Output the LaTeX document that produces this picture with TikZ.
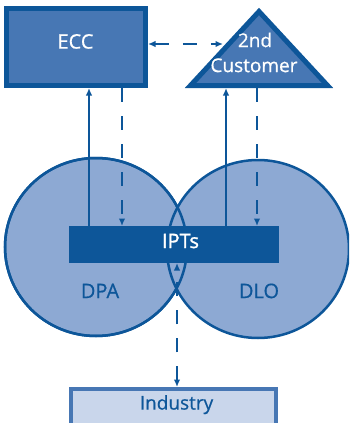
\documentclass[tikz,border=0pt]{standalone}
\usepackage{fontspec}
\setmainfont{Open Sans}
\newfontfamily\medfont{Open Sans}[FakeBold=0.7]
\newfontfamily\semifont{Open Sans}[FakeBold=1.6]
\usetikzlibrary{arrows.meta,shapes.geometric}
\definecolor{dblue}{HTML}{0D5699}
\definecolor{mblue}{HTML}{4777B4}
\definecolor{lblue}{HTML}{8DA9D3}
\definecolor{pblue}{HTML}{C9D6EB}
\tikzset{
  lbl/.style={text height=0.714em, text depth=0pt, inner sep=0pt, font=\medfont\fontsize{20}{22}\selectfont},
  conn/.style={draw=dblue, line width=2pt, -{Latex[length=7.5pt,width=6.5pt]}},
  dconn/.style={conn, dash pattern=on 14pt off 14pt},
  ring/.style={ellipse, fill=lblue, draw=dblue, line width=2.5pt, minimum width=182pt, minimum height=178pt, inner sep=0pt}
}
\begin{document}
\begin{tikzpicture}[x=1pt,y=-1pt]
\useasboundingbox (0,0) rectangle (349,423);
\clip (0,0) rectangle (349,423);
% circles
\node[ring] (dpac) at (96,247) {};
\node[ring] (dloc) at (258,249) {};
\draw[dblue, line width=2.5pt] (dpac.center) ellipse [x radius=91pt, y radius=89pt];
\node[lbl, text=dblue] (dpa) at (100,294.5) {DPA};
\node[lbl, text=dblue] (dlo) at (259,294.5) {DLO};
% IPTs bar
\node[lbl, fill=dblue, text=white, minimum width=210pt, minimum height=37pt, outer sep=0pt] (ipt) at (174,244.5) {};
\node[lbl, text=white, font=\semifont\fontsize{20}{22}\selectfont] (ipttext) at (180.5,244.5) {IPTs};
% ECC
\node[lbl, draw=dblue, fill=mblue, line width=5pt, minimum width=139pt, minimum height=77pt] (eccbox) at (76,47) {};
\node[lbl, text=white] (ecc) at (75.5,45) {ECC};
% triangle
\coordinate (tA) at (259,11.5);
\coordinate (tL) at (190.5,85.5);
\coordinate (tR) at (327.5,85.5);
\draw[dblue, fill=mblue, line width=5pt, line join=miter] (tA) -- (tL) -- (tR) -- cycle;
\node[lbl, text=white, font=\medfont\fontsize{19}{21}\selectfont] (nd) at (255,43.5) {2nd};
\node[lbl, text=white, font=\medfont\fontsize{19}{21}\selectfont] (cust) at (254,68.5) {Customer};
% Industry
\node[lbl, draw=mblue, fill=pblue, line width=4pt, minimum width=205pt, minimum height=38pt] (indbox) at (173.5,408) {};
\node[lbl, text=dblue, font=\medfont\fontsize{19}{21}\selectfont] (ind) at (176.5,406) {Industry};
% connectors
\coordinate (hy) at (0,44);
\coordinate (tl) at (223,44);
\draw[dconn, {Latex[length=7.5pt,width=6.5pt]}-{Latex[length=7.5pt,width=6.5pt]}] (eccbox.east |- hy) -- (tl);
\coordinate (x1) at (89,0);
\coordinate (x2) at (122,0);
\coordinate (t1) at (226,88);
\coordinate (t2) at (257,88);
\draw[conn] (x1 |- ipt.north) -- (x1 |- eccbox.south);
\draw[dconn] (x2 |- eccbox.south) -- (x2 |- ipt.north);
\draw[conn] (t1 |- ipt.north) -- (t1);
\draw[dconn] (t2) -- (t2 |- ipt.north);
\coordinate (x3) at (177,0);
\draw[dconn, {Latex[length=7.5pt,width=6.5pt]}-{Latex[length=7.5pt,width=6.5pt]}] (x3 |- indbox.north) -- (x3 |- ipt.south);
\end{tikzpicture}
\end{document}
